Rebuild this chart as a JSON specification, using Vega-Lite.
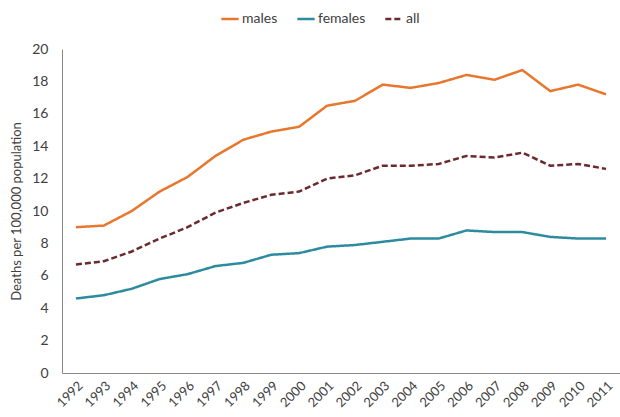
{
  "$schema": "https://vega.github.io/schema/vega-lite/v6.json",
  "autosize": "none",
  "width": 558,
  "height": 324,
  "padding": {"left": 62, "top": 49, "right": 0, "bottom": 44},
  "background": "white",
  "config": {
    "font": "Lato",
    "view": {"stroke": null}
  },
  "data": {
    "values": [
      {"year": "1992", "series": "males", "rate": 9.0},
      {"year": "1993", "series": "males", "rate": 9.1},
      {"year": "1994", "series": "males", "rate": 10.0},
      {"year": "1995", "series": "males", "rate": 11.2},
      {"year": "1996", "series": "males", "rate": 12.1},
      {"year": "1997", "series": "males", "rate": 13.4},
      {"year": "1998", "series": "males", "rate": 14.4},
      {"year": "1999", "series": "males", "rate": 14.9},
      {"year": "2000", "series": "males", "rate": 15.2},
      {"year": "2001", "series": "males", "rate": 16.5},
      {"year": "2002", "series": "males", "rate": 16.8},
      {"year": "2003", "series": "males", "rate": 17.8},
      {"year": "2004", "series": "males", "rate": 17.6},
      {"year": "2005", "series": "males", "rate": 17.9},
      {"year": "2006", "series": "males", "rate": 18.4},
      {"year": "2007", "series": "males", "rate": 18.1},
      {"year": "2008", "series": "males", "rate": 18.7},
      {"year": "2009", "series": "males", "rate": 17.4},
      {"year": "2010", "series": "males", "rate": 17.8},
      {"year": "2011", "series": "males", "rate": 17.2},
      {"year": "1992", "series": "females", "rate": 4.6},
      {"year": "1993", "series": "females", "rate": 4.8},
      {"year": "1994", "series": "females", "rate": 5.2},
      {"year": "1995", "series": "females", "rate": 5.8},
      {"year": "1996", "series": "females", "rate": 6.1},
      {"year": "1997", "series": "females", "rate": 6.6},
      {"year": "1998", "series": "females", "rate": 6.8},
      {"year": "1999", "series": "females", "rate": 7.3},
      {"year": "2000", "series": "females", "rate": 7.4},
      {"year": "2001", "series": "females", "rate": 7.8},
      {"year": "2002", "series": "females", "rate": 7.9},
      {"year": "2003", "series": "females", "rate": 8.1},
      {"year": "2004", "series": "females", "rate": 8.3},
      {"year": "2005", "series": "females", "rate": 8.3},
      {"year": "2006", "series": "females", "rate": 8.8},
      {"year": "2007", "series": "females", "rate": 8.7},
      {"year": "2008", "series": "females", "rate": 8.7},
      {"year": "2009", "series": "females", "rate": 8.4},
      {"year": "2010", "series": "females", "rate": 8.3},
      {"year": "2011", "series": "females", "rate": 8.3},
      {"year": "1992", "series": "all", "rate": 6.7},
      {"year": "1993", "series": "all", "rate": 6.9},
      {"year": "1994", "series": "all", "rate": 7.5},
      {"year": "1995", "series": "all", "rate": 8.3},
      {"year": "1996", "series": "all", "rate": 9.0},
      {"year": "1997", "series": "all", "rate": 9.9},
      {"year": "1998", "series": "all", "rate": 10.5},
      {"year": "1999", "series": "all", "rate": 11.0},
      {"year": "2000", "series": "all", "rate": 11.2},
      {"year": "2001", "series": "all", "rate": 12.0},
      {"year": "2002", "series": "all", "rate": 12.2},
      {"year": "2003", "series": "all", "rate": 12.8},
      {"year": "2004", "series": "all", "rate": 12.8},
      {"year": "2005", "series": "all", "rate": 12.9},
      {"year": "2006", "series": "all", "rate": 13.4},
      {"year": "2007", "series": "all", "rate": 13.3},
      {"year": "2008", "series": "all", "rate": 13.6},
      {"year": "2009", "series": "all", "rate": 12.8},
      {"year": "2010", "series": "all", "rate": 12.9},
      {"year": "2011", "series": "all", "rate": 12.6}
    ]
  },
  "mark": {"type": "line", "strokeWidth": 2.5},
  "encoding": {
    "x": {
      "field": "year",
      "type": "ordinal",
      "scale": {"type": "point", "padding": 0.5},
      "axis": {
        "title": null,
        "labelAngle": -45,
        "labelFontSize": 13,
        "labelColor": "#404040",
        "ticks": false,
        "domainColor": "#888888",
        "labelPadding": 6,
        "grid": false
      }
    },
    "y": {
      "field": "rate",
      "type": "quantitative",
      "scale": {"domain": [0, 20], "nice": false},
      "axis": {
        "title": "Deaths per 100,000 population",
        "titleFontSize": 13,
        "titleFontWeight": "normal",
        "titleColor": "#404040",
        "titlePadding": 8,
        "values": [0, 2, 4, 6, 8, 10, 12, 14, 16, 18, 20],
        "labelFontSize": 14,
        "labelColor": "#404040",
        "labelPadding": 14,
        "ticks": false,
        "grid": false,
        "domainColor": "#888888"
      }
    },
    "color": {
      "field": "series",
      "type": "nominal",
      "scale": {"domain": ["males", "females", "all"], "range": ["#E8762D", "#2D8BA0", "#6B2A2E"]},
      "legend": {
        "title": null,
        "orient": "none",
        "legendX": 158,
        "legendY": -40,
        "direction": "horizontal",
        "symbolType": "stroke",
        "symbolStrokeWidth": 2.5,
        "symbolSize": 300,
        "labelFontSize": 14,
        "labelColor": "#404040",
        "columnPadding": 14,
        "labelOffset": 2
      }
    },
    "strokeDash": {
      "field": "series",
      "type": "nominal",
      "scale": {"domain": ["males", "females", "all"], "range": [[1, 0], [1, 0], [6, 3]]},
      "legend": null
    }
  }
}
